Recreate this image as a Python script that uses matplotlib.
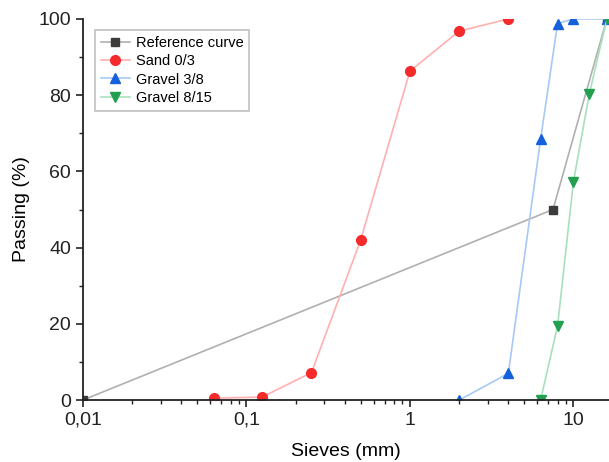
import matplotlib.pyplot as plt
from matplotlib.ticker import FixedLocator, FuncFormatter, LogLocator, MultipleLocator

plt.rcParams['font.family'] = ['Liberation Sans', 'DejaVu Sans']

# sieve sizes (mm) and passing (%)
ref_x = [0.01, 7.5, 16]
ref_y = [0, 50, 100]

sand_x = [0.063, 0.125, 0.25, 0.5, 1, 2, 4]
sand_y = [0.5, 0.8, 7.2, 42, 86.3, 96.8, 100]

g38_x = [2, 4, 6.3, 8, 10, 16]
g38_y = [0, 7, 68.5, 98.8, 100, 100]

g815_x = [6.3, 8, 10, 12.5, 16]
g815_y = [0, 19.5, 57.3, 80.3, 100]


def main():
    fig = plt.figure(figsize=(6.09, 4.62), dpi=100)
    ax = fig.add_axes([0.136, 0.134, 0.864, 0.825])

    ax.plot(ref_x, ref_y, color='#b0b0b0', lw=1.2, marker='s', ms=6,
            mfc='#3c3c3c', mec='#3c3c3c', label='Reference curve')
    ax.plot(sand_x, sand_y, color='#ffb0b0', lw=1.2, marker='o', ms=7,
            mfc='#f52a2a', mec='#f52a2a', label='Sand 0/3')
    ax.plot(g38_x, g38_y, color='#a8c8f5', lw=1.2, marker='^', ms=7,
            mfc='#1560dc', mec='#1560dc', label='Gravel 3/8')
    ax.plot(g815_x, g815_y, color='#a8e0bc', lw=1.2, marker='v', ms=7,
            mfc='#22a050', mec='#22a050', label='Gravel 8/15')

    ax.set_xscale('log')
    ax.set_xlim(0.01, 16.5)
    ax.set_ylim(0, 100)

    ax.xaxis.set_major_locator(FixedLocator([0.01, 0.1, 1, 10]))
    ax.xaxis.set_minor_locator(LogLocator(base=10, subs=range(2, 10)))
    ax.xaxis.set_major_formatter(FuncFormatter(lambda v, p: ('%g' % v).replace('.', ',')))
    ax.xaxis.set_minor_formatter(FuncFormatter(lambda v, p: ''))
    ax.yaxis.set_major_locator(MultipleLocator(20))
    ax.yaxis.set_minor_locator(MultipleLocator(10))

    for s in ['top', 'right']:
        ax.spines[s].set_visible(False)
    for s in ['left', 'bottom']:
        ax.spines[s].set_linewidth(1.3)
        ax.spines[s].set_color('#222222')

    ax.tick_params(which='major', direction='out', length=5, width=1.2, labelsize=14, colors='#222222')
    ax.tick_params(which='minor', direction='out', length=3, width=1.0, colors='#222222')

    ax.set_xlabel('Sieves (mm)', fontsize=14, labelpad=10)
    ax.set_ylabel('Passing (%)', fontsize=14, labelpad=6)

    leg = ax.legend(loc='upper left', bbox_to_anchor=(0.023, 0.971), borderaxespad=0,
                    fontsize=10.5, frameon=True, fancybox=False, edgecolor='#b0b0b0',
                    handlelength=2.0, borderpad=0.4, labelspacing=0.3, handletextpad=0.4)
    leg.get_frame().set_linewidth(1.2)

    fig.savefig('out.png', dpi=100)


if __name__ == '__main__':
    main()
